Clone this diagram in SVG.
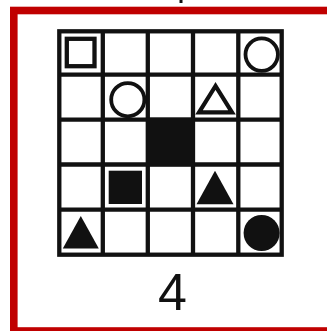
<svg xmlns="http://www.w3.org/2000/svg" width="327" height="331" viewBox="0 0 327 331">
<style>
.frame{fill:none;stroke:#c00000;stroke-width:7.6}
.grid{stroke:#111;stroke-width:4.3;fill:none}
.ink{fill:#111}
.open{fill:none;stroke:#111;stroke-width:3.8}
.label{font-family:"Liberation Sans",Arial,sans-serif;font-size:52px;fill:#111;text-anchor:middle}
</style>
<rect width="327" height="331" fill="#fff"/>
<rect class="frame" x="13.8" y="10.5" width="400" height="320.5"/>
<rect class="ink" x="179.5" y="0" width="3" height="3"/>
<g id="grid" class="grid">
<rect x="59.3" y="31.3" width="222.4" height="223.4"/>
<line x1="102.8" y1="31.3" x2="102.8" y2="254.7"/>
<line x1="147.8" y1="31.3" x2="147.8" y2="254.7"/>
<line x1="193" y1="31.3" x2="193" y2="254.7"/>
<line x1="238.3" y1="31.3" x2="238.3" y2="254.7"/>
<line x1="59.3" y1="74.7" x2="281.7" y2="74.7"/>
<line x1="59.3" y1="119.6" x2="281.7" y2="119.6"/>
<line x1="59.3" y1="164.5" x2="281.7" y2="164.5"/>
<line x1="59.3" y1="209.7" x2="281.7" y2="209.7"/>
</g>
<g id="open-square"><rect class="open" x="66.8" y="38.8" width="27.7" height="27.4" style="stroke-width:4.3"/></g>
<g id="open-circle-1"><circle class="open" cx="261.7" cy="54.6" r="16.2"/></g>
<g id="open-circle-2"><circle class="open" cx="127.8" cy="99.7" r="16.6"/></g>
<g id="open-triangle"><polygon class="open" points="215.5,86 199,112.3 232,112.3" style="stroke-width:4.2"/></g>
<g id="big-square"><rect class="ink" x="146" y="117.6" width="48.3" height="48.6"/></g>
<g id="small-square"><rect class="ink" x="108.7" y="170.7" width="33.3" height="33.3"/></g>
<g id="filled-triangle-1"><polygon class="ink" points="215,170.8 196.5,204.2 233.5,204.2"/></g>
<g id="filled-triangle-2"><polygon class="ink" points="80.8,216 62.8,248.4 98.8,248.4"/></g>
<g id="filled-circle"><circle class="ink" cx="261.6" cy="233" r="18"/></g>
<g id="label"><text class="label" x="172.5" y="310">4</text></g>
</svg>
